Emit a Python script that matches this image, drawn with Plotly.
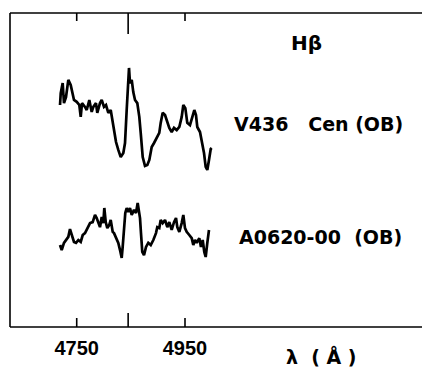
import plotly.graph_objects as go

# --- data (wavelength in Å, relative flux, arbitrary units) ---
v436_wave = [4719.2, 4720.5, 4724.1, 4726.5, 4730.2, 4734.5, 4738.9, 4741.9, 4745.0, 4750.0,
             4754.8, 4757.4, 4759.8, 4765.3, 4768.5, 4773.3, 4777.7, 4780.7, 4785.6, 4788.0,
             4793.0, 4796.2, 4800.4, 4804.1, 4808.4, 4812.8, 4816.5, 4818.9, 4822.6, 4826.8,
             4831.3, 4836.1, 4839.2, 4842.3, 4844.2, 4846.6, 4848.4, 4851.6, 4854.5, 4857.7,
             4861.9, 4865.6, 4868.2, 4871.9, 4876.1, 4880.4, 4884.1, 4888.5, 4892.8, 4897.7,
             4902.5, 4905.1, 4908.8, 4913.1, 4917.3, 4921.0, 4925.4, 4929.7, 4934.7, 4939.5,
             4943.9, 4946.9, 4950.6, 4954.2, 4959.2, 4964.2, 4967.2, 4970.3, 4972.7, 4977.7,
             4981.4, 4985.1, 4988.2, 4991.2, 4994.3, 4997.5, 4999.3]
v436_flux = [7.07, 7.45, 7.77, 7.13, 7.32, 7.87, 7.71, 7.48, 7.23, 7.17,
             7.07, 6.69, 7.13, 7.01, 6.91, 7.23, 6.85, 7.01, 7.13, 6.82,
             7.13, 7.23, 7.01, 7.07, 6.82, 6.91, 6.53, 6.37, 5.89, 5.64,
             5.41, 5.54, 5.86, 6.91, 7.55, 8.25, 7.77, 7.87, 7.48, 7.23,
             7.13, 6.69, 6.18, 5.41, 5.13, 5.16, 5.32, 5.73, 5.86, 6.02,
             6.18, 6.50, 6.82, 6.75, 6.53, 6.34, 6.21, 6.34, 6.27, 6.37,
             6.69, 7.07, 6.97, 6.50, 6.43, 6.69, 6.91, 6.75, 6.37, 6.21,
             5.89, 5.54, 5.10, 5.00, 5.32, 5.67, 5.70]

a0620_wave = [4719.2, 4722.3, 4726.5, 4730.2, 4734.5, 4737.6, 4740.8, 4745.0, 4748.7, 4753.0,
              4757.4, 4761.1, 4765.3, 4769.6, 4774.6, 4779.5, 4783.8, 4786.9, 4789.9, 4793.0,
              4796.2, 4799.1, 4801.0, 4803.6, 4806.5, 4810.2, 4812.8, 4816.5, 4818.9, 4822.6,
              4826.8, 4830.0, 4833.1, 4834.9, 4837.3, 4839.7, 4842.3, 4845.3, 4848.4, 4851.6,
              4855.8, 4859.5, 4862.6, 4865.0, 4866.9, 4868.7, 4871.1, 4874.3, 4878.0, 4882.2,
              4886.7, 4891.5, 4896.4, 4898.8, 4902.5, 4905.1, 4908.8, 4913.1, 4917.3, 4921.0,
              4925.4, 4929.7, 4933.4, 4935.8, 4939.5, 4943.9, 4946.9, 4950.0, 4953.1, 4957.9,
              4962.4, 4965.3, 4968.5, 4971.6, 4976.4, 4979.5, 4982.7, 4985.6, 4988.2, 4991.2,
              4994.3]
a0620_flux = [2.61, 2.45, 2.68, 2.77, 2.87, 3.12, 2.93, 2.71, 2.68, 2.77,
              2.71, 2.93, 2.99, 3.12, 3.31, 3.34, 3.57, 3.47, 3.34, 3.18,
              3.50, 3.31, 3.79, 3.34, 3.15, 3.25, 3.41, 3.03, 2.99, 2.83,
              2.68, 2.45, 2.20, 2.55, 3.09, 3.63, 3.79, 3.66, 3.79, 3.57,
              3.73, 3.63, 3.95, 3.73, 3.47, 2.99, 2.39, 2.29, 2.55, 2.68,
              2.61, 2.77, 2.99, 3.18, 3.15, 3.41, 3.31, 3.41, 3.18, 3.34,
              3.09, 3.34, 3.47, 3.18, 3.03, 3.31, 3.57, 3.15, 3.03, 2.93,
              2.83, 2.61, 2.77, 2.68, 2.83, 2.55, 2.77, 2.39, 2.23, 2.68,
              3.09]

tick_vals = [4750, 4950]
tick_text = ["4750", "4950"]
line_mark = 4845          # long marker tick (Hβ)
x_range = [4626.8, 5387.7]
y_range = [0, 10]

title_text = "Hβ"
label_v436 = "V436   Cen (OB)"
label_a0620 = "A0620-00  (OB)"
x_title = "λ  ( Å )"

FIG_W = 422
PLOT_W = FIG_W - 10
PLOT_H = 314
BLACK = "black"
LW = 1.6

fig = go.Figure()
for w, f in [(v436_wave, v436_flux), (a0620_wave, a0620_flux)]:
    fig.add_trace(go.Scatter(x=w, y=f, mode="lines",
                             line=dict(color=BLACK, width=2.7),
                             hoverinfo="skip", showlegend=False))

fig.update_layout(
    width=FIG_W, height=371,
    margin=dict(l=10, r=0, t=13, b=44),
    paper_bgcolor="white", plot_bgcolor="white",
    xaxis=dict(range=x_range, showgrid=False, zeroline=False,
               showline=False, mirror=False,
               ticks="", tickvals=tick_vals, ticktext=tick_text,
               tickfont=dict(family="Liberation Sans", size=20, color=BLACK, weight="bold"),
               ticklabelstandoff=7),
    yaxis=dict(range=y_range, showgrid=False, zeroline=False,
               showline=False, mirror=False,
               showticklabels=False, ticks=""),
)

# frame: left, bottom, top (open on the right)
fig.add_shape(type="line", xref="paper", yref="paper", x0=0, x1=0, y0=0, y1=1,
              line=dict(color=BLACK, width=LW))
fig.add_shape(type="line", xref="paper", yref="paper", x0=0, x1=1.01, y0=0, y1=0,
              line=dict(color=BLACK, width=LW))
fig.add_shape(type="line", xref="paper", yref="paper", x0=0, x1=1.01, y0=1, y1=1,
              line=dict(color=BLACK, width=LW))
# short ticks on both edges, pointing inward
for tv in tick_vals:
    fig.add_shape(type="line", xref="x", yref="paper", x0=tv, x1=tv, y0=1, y1=1 - 8 / PLOT_H,
                  line=dict(color=BLACK, width=LW))
    fig.add_shape(type="line", xref="x", yref="paper", x0=tv, x1=tv, y0=0, y1=9 / PLOT_H,
                  line=dict(color=BLACK, width=LW))
# long marker ticks at top and bottom
fig.add_shape(type="line", xref="x", yref="paper", x0=line_mark, x1=line_mark,
              y0=0, y1=14 / PLOT_H, line=dict(color=BLACK, width=LW))
fig.add_shape(type="line", xref="x", yref="paper", x0=line_mark, x1=line_mark,
              y0=1, y1=1 - 21 / PLOT_H, line=dict(color=BLACK, width=LW))

lab_font = dict(family="DejaVu Sans", size=19, color=BLACK, weight="bold")
fig.add_annotation(text=title_text, xref="paper", yref="paper",
                   x=(306 - 10) / PLOT_W, y=(327 - 43) / PLOT_H, showarrow=False,
                   font=dict(family="DejaVu Sans", size=20, color=BLACK, weight="bold"),
                   xanchor="center", yanchor="middle")
fig.add_annotation(text=label_v436, xref="paper", yref="paper",
                   x=(318 - 10) / PLOT_W, y=(327 - 124) / PLOT_H, showarrow=False,
                   font=lab_font, xanchor="center", yanchor="middle")
fig.add_annotation(text=label_a0620, xref="paper", yref="paper",
                   x=(320 - 10) / PLOT_W, y=(327 - 237) / PLOT_H, showarrow=False,
                   font=lab_font, xanchor="center", yanchor="middle")
fig.add_annotation(text=x_title, xref="paper", yref="paper",
                   x=(321 - 10) / PLOT_W, y=-(356 - 327) / PLOT_H, showarrow=False,
                   font=lab_font, xanchor="center", yanchor="middle")

fig.write_html("out.html")
